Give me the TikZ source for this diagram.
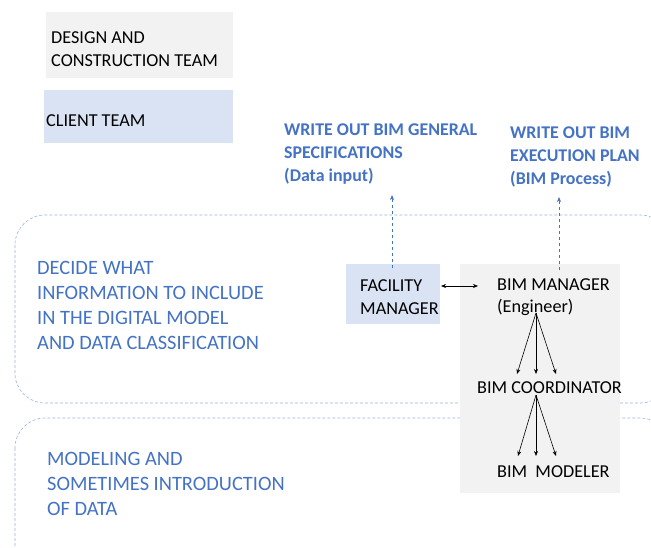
\documentclass[tikz,border=0pt]{standalone}
\usepackage{fontspec}
\setmainfont{Carlito}
\usetikzlibrary{arrows.meta}
\definecolor{tblue}{HTML}{4472C4}
\definecolor{lgray}{HTML}{F2F2F2}
\definecolor{lblue}{HTML}{DAE3F3}
\definecolor{dblue}{HTML}{9DB4E0}
\begin{document}
\begin{tikzpicture}[x=1pt,y=-1pt,
  blk/.style={font=\fontsize{18.2}{22.5}\selectfont, text=black, inner sep=0pt, align=left, anchor=west},
  bluetxt/.style={font=\fontsize{20.4}{25}\selectfont, text=tblue, inner sep=0pt, align=left, anchor=west},
  headtxt/.style={font=\bfseries\fontsize{17.9}{23}\selectfont, text=tblue, inner sep=0pt, align=left, anchor=west},
  area/.style={draw=dblue, densely dashed, line width=0.6pt, rounded corners=30pt},
  bx/.style={draw=none, inner sep=0pt, anchor=north west},
  blk arrow/.style={-{Stealth[length=5pt,width=4pt]}, line width=0.6pt, black},
  up arrow/.style={-{Stealth[length=5pt,width=4pt]}, dashed, line width=0.6pt, tblue}
]
\useasboundingbox (0,0) rectangle (651,547);
\clip (0,0) rectangle (651,547);
\fill[white] (0,0) rectangle (651,547);

% legend
\node[bx, fill=lgray, minimum width=187pt, minimum height=66pt] (dctbox) at (46,12) {};
\node[blk] (dct) at (51,49) {DESIGN AND\\CONSTRUCTION TEAM};
\node[bx, fill=lblue, minimum width=189pt, minimum height=53pt] (ctbox) at (44,90) {};
\node[blk] (ct) at (46,121) {CLIENT TEAM};

% areas
\draw[area] (15,215) rectangle (670,403);
\draw[area] (15,418) rectangle (670,580);

% boxes
\node[bx, fill=lgray, minimum width=160pt, minimum height=229pt] (bimbox) at (460,264) {};
\node[bx, fill=lblue, minimum width=94pt, minimum height=60pt] (fmbox) at (346,264) {};

% texts
\node[headtxt] (spec) at (284,154) {WRITE OUT BIM GENERAL\\SPECIFICATIONS\\(Data input)};
\node[headtxt] (bep) at (510,157) {WRITE OUT BIM\\EXECUTION PLAN\\(BIM Process)};
\node[bluetxt] (decide) at (37,305) {DECIDE WHAT\\INFORMATION TO INCLUDE\\IN THE DIGITAL MODEL\\AND DATA CLASSIFICATION};
\node[bluetxt] (model) at (47,484) {MODELING AND\\SOMETIMES INTRODUCTION\\OF DATA};

\node[blk] (fm) at (360,297) {FACILITY\\MANAGER};
\node[blk] (bm) at (497,297) {BIM MANAGER\\(Engineer)};
\node[blk] (bc) at (477,388) {BIM COORDINATOR};
\node[blk] (mod) at (497,472) {BIM\ \ MODELER};

% connectors
\coordinate (fmt) at (392,268);
\coordinate (spect) at (392,195);
\coordinate (bmt) at (559,270);
\coordinate (bept) at (559,197);
\draw[up arrow] (fmt) -- (spect);
\draw[up arrow] (bmt) -- (bept);

\coordinate (fmr) at (441,286);
\coordinate (bml) at (478,286);
\draw[{Stealth[length=5pt,width=4pt]}-{Stealth[length=5pt,width=4pt]}, line width=0.6pt] (fmr) -- (bml);

\coordinate (bmo) at (536,313);
\coordinate (bc1) at (517,374);
\coordinate (bc2) at (536,374);
\coordinate (bc3) at (556,374);
\draw[blk arrow] (bmo) -- (bc1);
\draw[blk arrow] (bmo) -- (bc2);
\draw[blk arrow] (bmo) -- (bc3);

\coordinate (bco) at (536,395);
\coordinate (m1) at (518,456);
\coordinate (m2) at (536,456);
\coordinate (m3) at (556,456);
\draw[blk arrow] (bco) -- (m1);
\draw[blk arrow] (bco) -- (m2);
\draw[blk arrow] (bco) -- (m3);
\end{tikzpicture}
\end{document}
